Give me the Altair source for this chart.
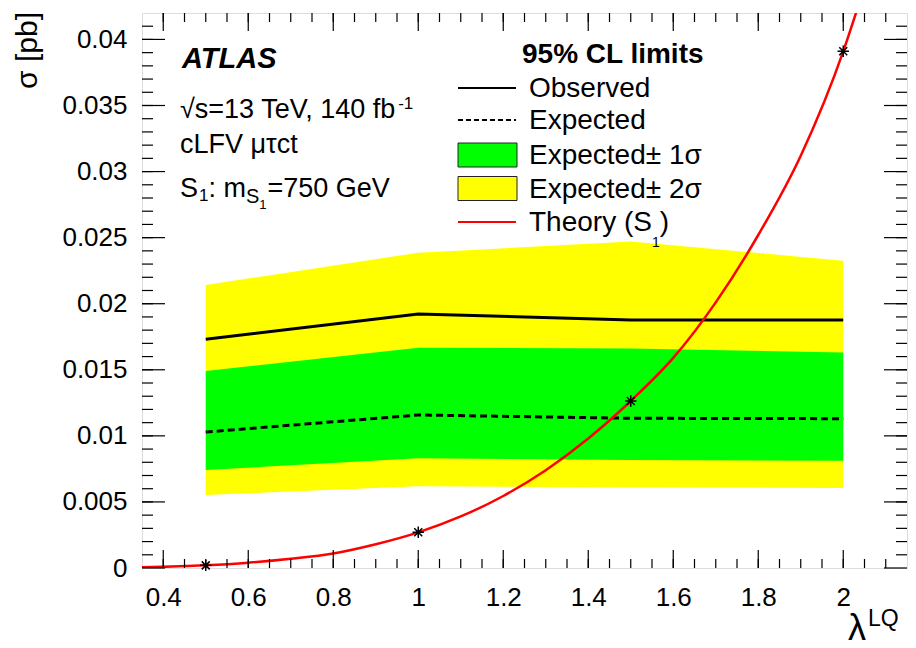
import altair as alt
import pandas as pd

FONT = "Liberation Sans"

# ---------------- data ----------------
LAMBDA = [0.5, 1.0, 1.5, 2.0]
OBSERVED = [0.01731, 0.01922, 0.01877, 0.01877]
EXPECTED = [0.01029, 0.01158, 0.01133, 0.01130]
EXP_1S_LO = [0.00742, 0.00830, 0.00817, 0.00812]
EXP_1S_HI = [0.01491, 0.01667, 0.01662, 0.01630]
EXP_2S_LO = [0.00552, 0.00618, 0.00610, 0.00605]
EXP_2S_HI = [0.02142, 0.02386, 0.02470, 0.02326]
THEORY_POINTS = [0.00020, 0.00270, 0.01264, 0.03910]

THEORY_CURVE_X = [0.35, 0.5, 0.6, 0.7, 0.8, 0.9, 1.0, 1.1, 1.2, 1.3, 1.4,
                  1.5, 1.6, 1.7, 1.8, 1.9, 2.0, 2.035]
THEORY_CURVE_Y = [0.00005, 0.00020, 0.00040, 0.00070, 0.00110, 0.00180,
                  0.00270, 0.00390, 0.00545, 0.00740, 0.00980, 0.01264,
                  0.01590, 0.02010, 0.02520, 0.03120, 0.03910, 0.04250]

X_DOMAIN = [0.35, 2.15]
Y_DOMAIN = [0.0, 0.042]
X_MAJOR = [0.4, 0.6, 0.8, 1.0, 1.2, 1.4, 1.6, 1.8, 2.0]
X_MINOR = [round(0.35 + 0.05 * i, 2) for i in range(1, 36)]
Y_MAJOR = [0, 0.005, 0.01, 0.015, 0.02, 0.025, 0.03, 0.035, 0.04]
Y_MINOR = [round(0.001 * i, 3) for i in range(1, 42)]

LEGEND_TITLE = "95% CL limits"
LEGEND_LABELS = ["Observed", "Expected", "Expected\u00b1 1\u03c3", "Expected\u00b1 2\u03c3", "Theory (S"]

# ---------------- layout constants ----------------
W, H = 765, 555
XMAJ, XMIN = 18, 9
YMAJ, YMIN = 23, 11

AW = {' ': 278, '(': 333, ')': 333, ':': 278, '=': 584, ',': 278, '-': 333, '.': 278,
      '%': 889, '\u00b1': 584, '\u221a': 549,
      'A': 667, 'C': 722, 'E': 667, 'F': 611, 'G': 778, 'L': 556, 'O': 778, 'Q': 778,
      'S': 667, 'T': 611, 'V': 667,
      'a': 556, 'b': 556, 'c': 500, 'd': 556, 'e': 556, 'f': 278, 'h': 556, 'i': 222,
      'l': 222, 'm': 833, 'o': 556, 'p': 556, 'r': 333, 's': 500, 't': 278, 'v': 500,
      'x': 500, 'y': 500, '\u03bc': 577, '\u03c4': 430, '\u03c3': 600, '\u03bb': 530}


def tw(s, size):
    return sum(AW.get(c, 556) for c in s) / 1000.0 * size


XS = alt.Scale(domain=X_DOMAIN, nice=False, zero=False)
YS = alt.Scale(domain=Y_DOMAIN, nice=False, zero=False)

XAXIS = alt.Axis(orient="bottom", values=X_MAJOR, ticks=False, domain=False, grid=False,
                 labelFont=FONT, labelFontSize=26, labelColor="black", format="~g",
                 labelFlush=False, labelOverlap=False, labelPadding=16)
YAXIS = alt.Axis(orient="left", values=Y_MAJOR, ticks=False, domain=False, grid=False,
                 labelFont=FONT, labelFontSize=26, labelColor="black", format="~g",
                 labelFlush=False, labelOverlap=False, labelPadding=15)

df = pd.DataFrame({"lam": LAMBDA, "obs": OBSERVED, "exp": EXPECTED,
                   "s1lo": EXP_1S_LO, "s1hi": EXP_1S_HI,
                   "s2lo": EXP_2S_LO, "s2hi": EXP_2S_HI, "th": THEORY_POINTS})
dth = pd.DataFrame({"lam": THEORY_CURVE_X, "th": THEORY_CURVE_Y})


def X(field):
    return alt.X(field, scale=XS, axis=None, title=None)


def Y(field):
    return alt.Y(field, scale=YS, axis=None, title=None)


yellow = alt.Chart(df).mark_area(color="#ffff00", opacity=1).encode(
    x=alt.X("lam:Q", scale=XS, axis=XAXIS, title=None),
    y=alt.Y("s2lo:Q", scale=YS, axis=YAXIS, title=None),
    y2="s2hi:Q")
green = alt.Chart(df).mark_area(color="#00ff00", opacity=1).encode(
    x=X("lam:Q"), y=Y("s1lo:Q"), y2="s1hi:Q")
obs = alt.Chart(df).mark_line(color="black", strokeWidth=3).encode(
    x=X("lam:Q"), y=Y("obs:Q"))
exp = alt.Chart(df).mark_line(color="black", strokeWidth=3, strokeDash=[7, 4]).encode(
    x=X("lam:Q"), y=Y("exp:Q"))
theory = alt.Chart(dth).mark_line(color="#ff0000", strokeWidth=2.5, interpolate="monotone",
                                  clip=True).encode(x=X("lam:Q"), y=Y("th:Q"))
STAR = "M-1,0L1,0M0,-1L0,1M-0.7,-0.7L0.7,0.7M-0.7,0.7L0.7,-0.7"
stars = alt.Chart(df).mark_point(shape=STAR, size=130, filled=False, stroke="black",
                                 strokeWidth=1.5, opacity=1).encode(
    x=X("lam:Q"), y=Y("th:Q"))

layers = [yellow, green, obs, exp, theory, stars]

# frame ticks (inside, on all four sides)
TICK = dict(color="black", strokeWidth=1.2)
for vals, size in ((Y_MAJOR, YMAJ), (Y_MINOR, YMIN)):
    d = pd.DataFrame({"v": vals})
    layers.append(alt.Chart(d).mark_rule(**TICK).encode(
        y=Y("v:Q"), x=alt.value(0), x2=alt.value(size)))
    layers.append(alt.Chart(d).mark_rule(**TICK).encode(
        y=Y("v:Q"), x=alt.value(W - size), x2=alt.value(W)))
for vals, size in ((X_MAJOR, XMAJ), (X_MINOR, XMIN)):
    d = pd.DataFrame({"v": vals})
    layers.append(alt.Chart(d).mark_rule(**TICK).encode(
        x=X("v:Q"), y=alt.value(0), y2=alt.value(size)))
    layers.append(alt.Chart(d).mark_rule(**TICK).encode(
        x=X("v:Q"), y=alt.value(H - size), y2=alt.value(H)))

dummy = pd.DataFrame({"k": [0]})


def label(txt, x, y, size=27, weight=None, style=None, align="left",
          baseline="alphabetic", angle=None):
    kw = dict(font=FONT, fontSize=size, align=align, baseline=baseline, color="black")
    if weight:
        kw["fontWeight"] = weight
    if style:
        kw["fontStyle"] = style
    if angle is not None:
        kw["angle"] = angle
    return alt.Chart(pd.DataFrame({"t": [txt]})).mark_text(**kw).encode(
        text="t:N", x=alt.value(x), y=alt.value(y))


def hrule(x1, x2, y, color="black", width=2, dash=None):
    kw = dict(color=color, strokeWidth=width)
    if dash:
        kw["strokeDash"] = dash
    return alt.Chart(dummy).mark_rule(**kw).encode(
        x=alt.value(x1), x2=alt.value(x2), y=alt.value(y))


def box(x1, x2, y1, y2, fill):
    return alt.Chart(dummy).mark_rect(fill=fill, stroke="#222222", strokeWidth=1).encode(
        x=alt.value(x1), x2=alt.value(x2), y=alt.value(y1), y2=alt.value(y2))


# axis titles
layers.append(label("\u03c3 [pb]", -114, -1, size=30, align="right", baseline="middle", angle=270))
LAMX = 706
layers.append(label("\u03bb", LAMX, 627, size=36))
layers.append(label("LQ", LAMX + tw("\u03bb", 36) + 1, 613, size=23))

# ATLAS block
TX = 38
layers.append(label("ATLAS", 40, 55, size=29, weight="bold", style="italic"))
s2 = "\u221as=13 TeV, 140 fb"
layers.append(label(s2, TX, 105))
layers.append(label("-1", TX + tw(s2, 27) - 3, 96, size=17))
layers.append(label("cLFV \u03bc\u03c4ct", TX, 140))
x = TX
layers.append(label("S", x, 184))
x += tw("S", 27) + 1
layers.append(label("1", x, 188, size=17))
x += tw("1", 17)
layers.append(label(": m", x, 184))
x += tw(": m", 27)
layers.append(label("S", x, 190, size=20))
x += tw("S", 20)
layers.append(label("1", x, 196, size=13))
x += tw("1", 13) + 1
layers.append(label("=750 GeV", x, 184))

# legend
LX1, LX2, TXL = 316, 374, 387
ROWS = [75, 107, 142, 175.5, 209]
layers.append(label(LEGEND_TITLE, 380, 50, size=28, weight="bold"))
layers.append(hrule(LX1, LX2, ROWS[0], width=2))
layers.append(hrule(LX1, LX2, ROWS[1], width=2, dash=[5, 3]))
layers.append(box(LX1, LX2 + 1, ROWS[2] - 12, ROWS[2] + 12, "#00ff00"))
layers.append(box(LX1, LX2 + 1, ROWS[3] - 12, ROWS[3] + 12, "#ffff00"))
layers.append(hrule(LX1, LX2, ROWS[4], color="#ff0000", width=2))
for lab, ry in zip(LEGEND_LABELS, ROWS):
    layers.append(label(lab, TXL, ry + 9, size=28))
xs = TXL + tw(LEGEND_LABELS[4], 28)
layers.append(label("1", xs, ROWS[4] + 25, size=14))
layers.append(label(")", xs + tw("1", 14), ROWS[4] + 9, size=28))

chart = alt.layer(*layers).resolve_scale(x="independent", y="independent").properties(
    width=W, height=H,
    autosize=alt.AutoSizeParams(type="none"),
    padding={"left": 134, "top": 5, "right": 1, "bottom": 80},
).configure_view(stroke="black", strokeWidth=1.5).configure(background="white")

chart.save("out.html", embed_options={"renderer": "svg", "actions": False})
